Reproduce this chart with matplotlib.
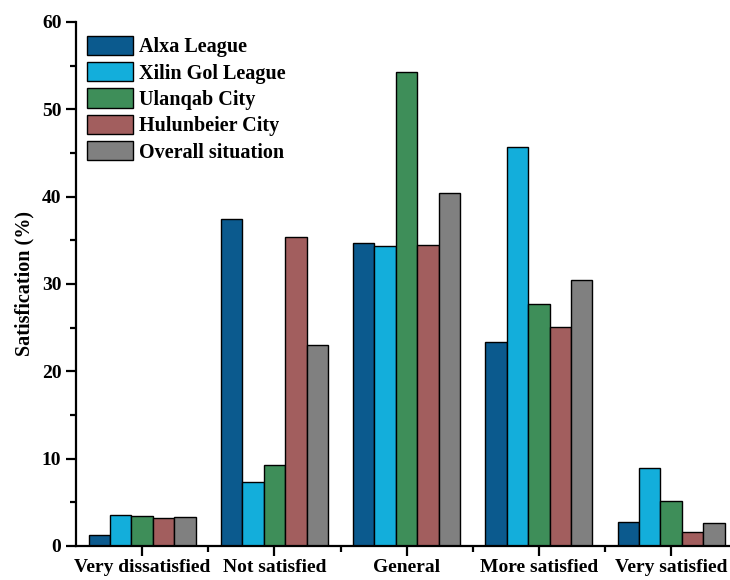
import matplotlib
matplotlib.use('Agg')
from matplotlib import pyplot as plt
from matplotlib.ticker import MultipleLocator, FixedLocator
import numpy as np

plt.rcParams['font.family'] = 'Liberation Serif'
plt.rcParams['font.weight'] = 'bold'

categories = ['Very dissatisfied', 'Not satisfied', 'General', 'More satisfied', 'Very satisfied']
series_names = ['Alxa League', 'Xilin Gol League', 'Ulanqab City', 'Hulunbeier City', 'Overall situation']
alxa = [1.3, 37.5, 34.7, 23.4, 2.8]
xilin = [3.6, 7.3, 34.3, 45.7, 8.9]
ulanqab = [3.4, 9.3, 54.3, 27.7, 5.1]
hulun = [3.2, 35.4, 34.5, 25.1, 1.6]
overall = [3.3, 23.0, 40.4, 30.5, 2.6]
series = [alxa, xilin, ulanqab, hulun, overall]
colors = ['#0b5a8e', '#13aedb', '#3e8e59', '#a25e5e', '#808080']

fig = plt.figure(figsize=(7.3, 5.8), dpi=100)
ax = fig.add_axes([76/730, 34/580, (730-76)/730, (546-22)/580])

x = np.arange(len(categories))
w = 0.162
for i, (vals, name, c) in enumerate(zip(series, series_names, colors)):
    ax.bar(x + (i-2)*w, vals, width=w, color=c, edgecolor='black', linewidth=1.0, label=name)

ax.set_xlim(-0.5, 4.445)
ax.set_ylim(0, 60)
ax.spines['top'].set_visible(False)
ax.spines['right'].set_visible(False)
for s in ['left', 'bottom']:
    ax.spines[s].set_linewidth(1.6)

ax.set_xticks(x)
ax.set_xticklabels(categories, fontsize=12.8, fontweight='bold')
ax.xaxis.set_minor_locator(FixedLocator(x[:-1] + 0.5))
ax.yaxis.set_major_locator(MultipleLocator(10))
ax.yaxis.set_minor_locator(MultipleLocator(5))
ax.tick_params(axis='both', which='major', direction='out', length=7, width=1.6, labelsize=14)
ax.tick_params(axis='both', which='minor', direction='out', length=4, width=1.6)
ax.tick_params(axis='x', which='major', pad=2)
ax.set_ylabel('Satisfication (%)', fontsize=14.5, fontweight='bold', labelpad=5)

ax.legend(loc='upper left', bbox_to_anchor=(0.0, 0.995), frameon=False, fontsize=14.5,
          handlelength=2.3, handleheight=1.1, labelspacing=0.24, handletextpad=0.3,
          borderaxespad=0.15)

fig.savefig('out.png', dpi=100)
